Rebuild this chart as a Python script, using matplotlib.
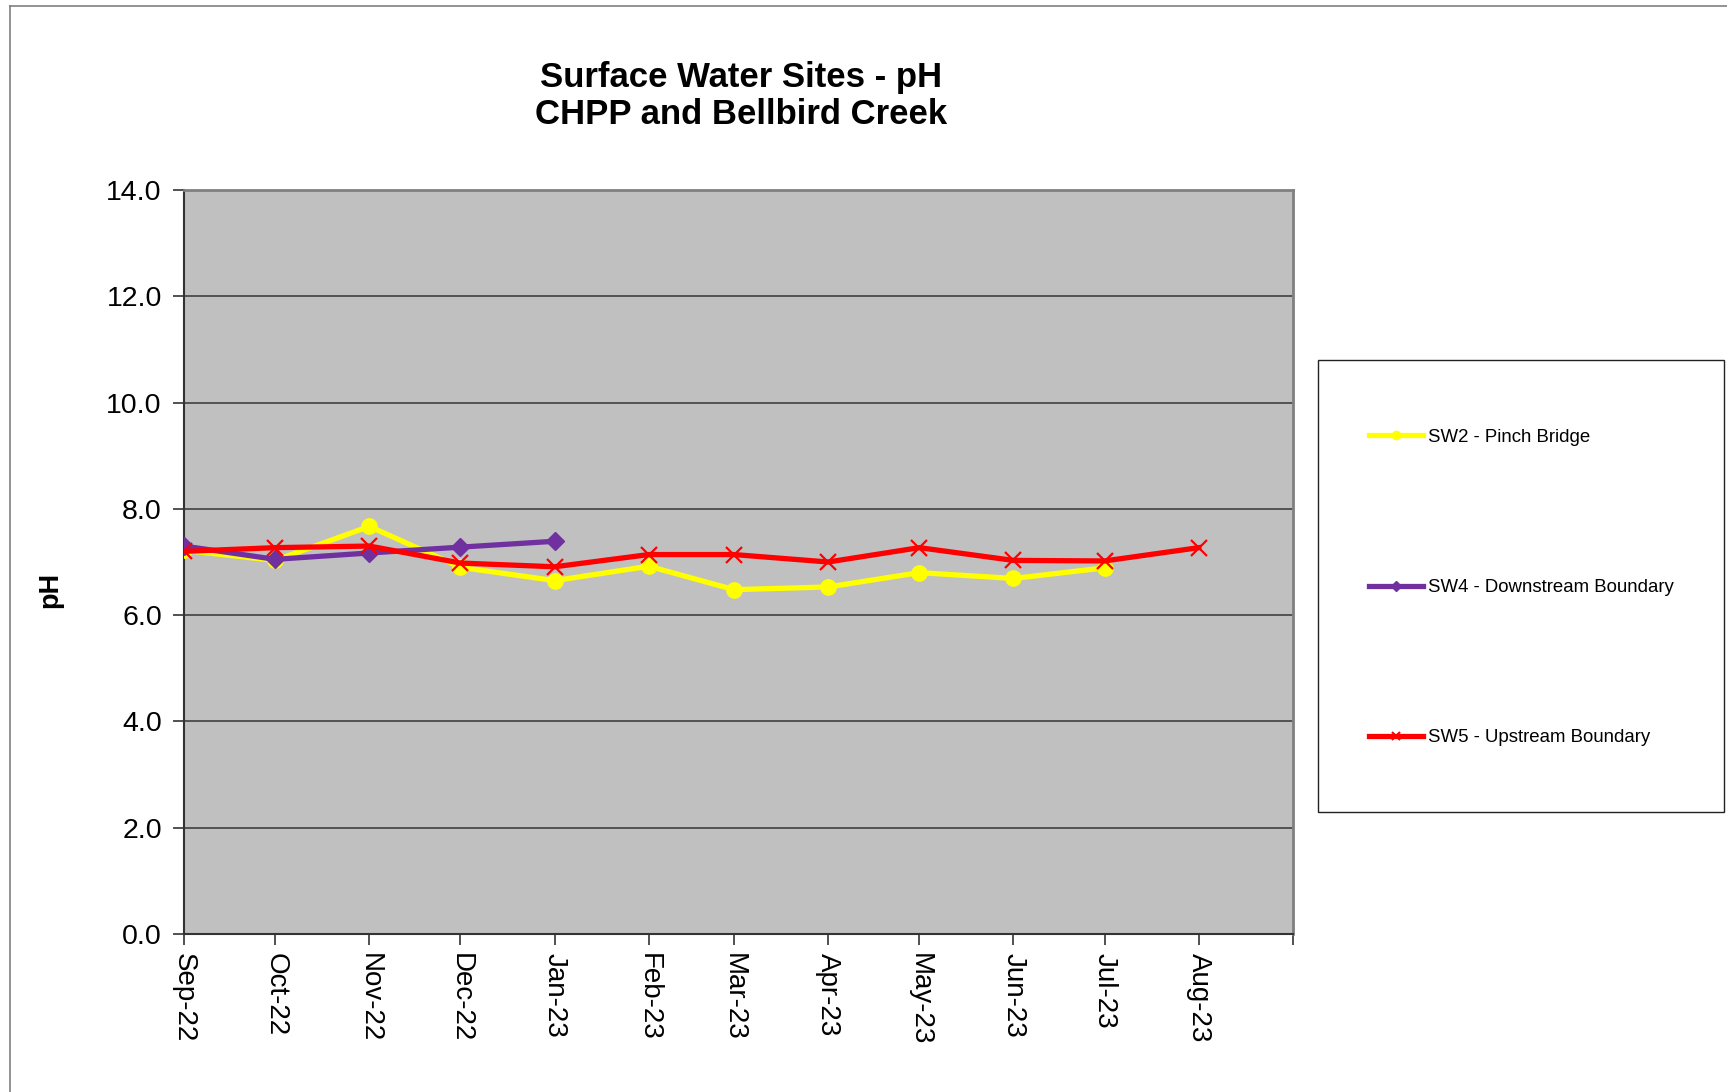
import matplotlib
matplotlib.use("Agg")
import matplotlib.pyplot as plt
from matplotlib.lines import Line2D
from matplotlib.patches import Rectangle
import datetime as dt

plt.rcParams['font.family'] = ['Liberation Sans', 'DejaVu Sans']

# ---- data ----
months = ["Sep-22", "Oct-22", "Nov-22", "Dec-22", "Jan-23", "Feb-23",
          "Mar-23", "Apr-23", "May-23", "Jun-23", "Jul-23", "Aug-23"]
month_dates = [dt.date(2022, 9, 1), dt.date(2022, 10, 1), dt.date(2022, 11, 1),
               dt.date(2022, 12, 1), dt.date(2023, 1, 1), dt.date(2023, 2, 1),
               dt.date(2023, 3, 1), dt.date(2023, 4, 1), dt.date(2023, 5, 1),
               dt.date(2023, 6, 1), dt.date(2023, 7, 1), dt.date(2023, 8, 1)]
sw2 = [7.22, 7.03, 7.67, 6.90, 6.65, 6.92, 6.48, 6.53, 6.80, 6.69, 6.89]
sw4 = [7.30, 7.05, 7.17, 7.28, 7.39]
sw5 = [7.20, 7.27, 7.30, 6.98, 6.91, 7.14, 7.14, 7.00, 7.27, 7.03, 7.02, 7.27]
series_names = ["SW2 - Pinch Bridge", "SW4 - Downstream Boundary", "SW5 - Upstream Boundary"]
y_ticks = [0.0, 2.0, 4.0, 6.0, 8.0, 10.0, 12.0, 14.0]

W, H = 1727, 1092
fig = plt.figure(figsize=(W / 100, H / 100), dpi=100)
fig.patch.set_facecolor("white")

# outer chart border (top and left visible)
fig.add_artist(Line2D([10 / W, 10 / W], [0, 1 - 6 / H], color="#808080", lw=1.2))
fig.add_artist(Line2D([10 / W, 1], [1 - 6 / H, 1 - 6 / H], color="#808080", lw=1.2))

ax_l, ax_r, ax_t, ax_b = 184 / W, 1293 / W, 1 - 190 / H, 1 - 934 / H
ax = fig.add_axes([ax_l, ax_b, ax_r - ax_l, ax_t - ax_b])
ax.set_facecolor("#C0C0C0")

styles = [
    dict(color="#FFFF00", marker="o", markersize=11, lw=3.8, zorder=3),
    dict(color="#7030A0", marker="D", markersize=9, lw=3.8, zorder=4),
    dict(color="#FF0000", marker="x", markersize=11, markeredgewidth=1.6, lw=3.8, zorder=5),
]
data = [sw2, sw4, sw5]
for vals, st, name in zip(data, styles, series_names):
    ax.plot(month_dates[:len(vals)], vals, label=name, **st)

ax.set_ylim(0, 14)
ax.set_yticks(y_ticks)
ax.set_yticklabels([f"{v:.1f}" for v in y_ticks], fontsize=20.5)
ax.set_xlim(dt.date(2022, 9, 1), dt.date(2023, 9, 1))
ax.set_xticks(month_dates + [dt.date(2023, 9, 1)])
ax.set_xticklabels(months + [""], rotation=-90, fontsize=20, va="top", ha="center")
ax.tick_params(axis="both", direction="out", length=8, width=1.2, color="#333333")
ax.tick_params(axis="x", pad=6)
ax.tick_params(axis="y", pad=8)

ax.grid(axis="y", color="#404040", lw=1.2, zorder=1)
ax.set_axisbelow(True)
for s in ["top", "right"]:
    ax.spines[s].set_color("#808080")
    ax.spines[s].set_linewidth(2)
for s in ["left", "bottom"]:
    ax.spines[s].set_color("#333333")
    ax.spines[s].set_linewidth(1.5)

fig.text(50 / W, 1 - 590 / H, "pH", rotation=90, fontsize=19.5, fontweight="bold",
         ha="center", va="center")
fig.text(741 / W, 1 - 96 / H, "Surface Water Sites - pH\nCHPP and Bellbird Creek",
         fontsize=25, fontweight="bold", ha="center", va="center", linespacing=1.17)

# legend box
fig.add_artist(Rectangle((1318 / W, 1 - 812 / H), (1724 - 1318) / W, (812 - 360) / H,
                         transform=fig.transFigure, facecolor="white",
                         edgecolor="#222222", lw=1.0, zorder=0))
handles = [
    Line2D([], [], color=styles[0]["color"], marker="o", markersize=6, lw=3.8),
    Line2D([], [], color=styles[1]["color"], marker="D", markersize=5, lw=3.8),
    Line2D([], [], color=styles[2]["color"], marker="x", markersize=6, markeredgewidth=1.5, lw=3.8),
]
leg = fig.legend(handles, series_names, loc="center left",
                 bbox_to_anchor=(1352 / W, 1 - 587.5 / H), frameon=False,
                 fontsize=13.4, labelspacing=7.15, handlelength=2.9, handletextpad=0.3)
fig.savefig("out.png", dpi=100)
